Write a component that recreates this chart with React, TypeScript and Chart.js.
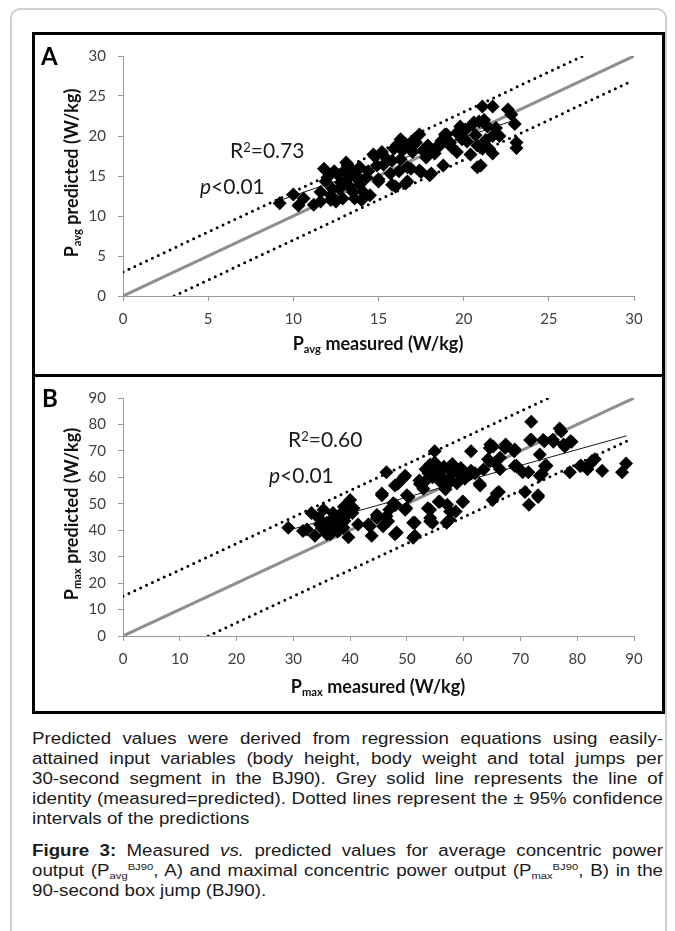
import React, { useEffect, useRef } from "react";
import { Chart, registerables } from "chart.js";

Chart.register(...registerables);

// ---------- Panel A data (W/kg) ----------
const A_MEASURED = [
  9.2, 10.0, 10.3, 10.6, 11.2, 11.6, 11.8, 11.9, 11.6, 12.3, 12.5, 12.2, 12.7, 13.1, 13.2, 13.5, 12.9, 13.9, 14.1, 13.0,
  13.2, 13.7, 13.3, 14.1, 13.6, 13.9, 14.5, 14.0, 14.7, 14.8, 14.9, 15.0, 15.0, 15.2, 15.5, 15.7, 15.8, 15.9, 16.0, 15.8,
  16.3, 16.3, 16.1, 16.6, 16.7, 16.7, 16.6, 16.85, 16.9, 17.4, 17.4, 17.5, 17.8, 17.9, 18.0, 18.0, 18.1, 18.6, 18.8, 18.9,
  19.0, 19.2, 19.6, 19.6, 20.1, 20.4, 20.5, 20.6, 20.8, 20.8, 20.9, 21.0, 21.1, 21.1, 21.4, 21.5, 21.7, 21.7, 21.7, 22.1,
  22.6, 22.8, 23.0, 23.1, 23.1, 12.0, 12.6, 13.4, 14.3, 17.0, 17.2, 17.6, 18.3, 18.4, 19.3, 19.9, 20.2, 21.3, 21.9, 16.2,
  15.3, 12.2, 19.8, 14.4, 12.8, 13.8, 12.4, 13.0, 16.4, 17.1, 18.7, 20.0, 20.7, 21.2,
];
const A_PREDICTED = [
  11.6, 12.7, 11.3, 12.2, 11.4, 11.8, 15.9, 14.3, 13.0, 13.4, 11.8, 12.6, 13.4, 16.7, 14.7, 13.0, 12.2, 13.9, 12.2, 15.7,
  16.3, 15.1, 13.7, 13.0, 12.2, 16.1, 12.6, 12.0, 17.7, 17.4, 16.3, 14.3, 14.6, 18.0, 17.1, 15.3, 16.9, 18.4, 13.7, 13.9,
  19.6, 17.1, 18.9, 19.0, 16.1, 14.3, 14.1, 18.8, 15.9, 20.2, 15.7, 15.5, 17.3, 18.8, 18.4, 15.1, 15.3, 18.8, 16.3, 20.2,
  20.2, 19.2, 20.4, 18.0, 20.8, 17.7, 21.4, 21.7, 18.8, 16.1, 21.8, 16.3, 23.7, 18.4, 21.2, 18.4, 23.7, 20.0, 17.8, 20.0,
  23.3, 22.7, 21.5, 19.2, 18.5, 14.8, 15.2, 15.5, 14.8, 18.0, 19.2, 18.2, 17.8, 18.6, 18.6, 19.6, 19.3, 19.5, 21.0, 15.6,
  16.4, 12.0, 21.2, 15.6, 14.2, 14.5, 15.6, 14.0, 18.2, 19.6, 19.4, 20.6, 20.1, 22.0,
];
const A_IDENTITY_X = [0, 30];
const A_IDENTITY_Y = [0, 30];
const A_UPPER_X = [0, 27];
const A_UPPER_Y = [3, 30];
const A_LOWER_X = [3, 29.8];
const A_LOWER_Y = [0, 26.8];
const A_FIT_X = [9, 23];
const A_FIT_Y = [11.8, 22.0];

// ---------- Panel B data (W/kg) ----------
const B_MEASURED = [
  29.1, 31.7, 32.4, 33.2, 33.8, 34.7, 35.3, 35.9, 35.9, 36.5, 36.6, 37.0, 38.2, 38.9, 38.8, 39.4, 39.7, 40.0, 40.6, 40.4,
  41.4, 43.2, 43.5, 43.8, 44.7, 44.7, 45.0, 45.6, 45.6, 45.8, 46.4, 46.4, 46.7, 46.9, 47.6, 47.9, 47.9, 47.9, 48.2, 48.0,
  48.4, 49.5, 49.7, 49.7, 49.9, 50.0, 50.3, 51.1, 51.1, 51.4, 51.4, 52.2, 52.3, 52.9, 53.3, 53.7, 54.1, 54.1, 54.1, 54.1,
  54.5, 54.9, 54.9, 55.2, 55.6, 55.8, 57.0, 57.0, 57.1, 57.5, 57.6, 57.6, 58.6, 59.4, 59.8, 59.9, 61.1, 61.3, 61.3, 62.8,
  62.9, 64.3, 64.6, 64.6, 64.7, 65.1, 65.2, 65.8, 66.2, 66.4, 66.4, 67.3, 67.4, 68.9, 69.0, 69.0, 69.3, 70.4, 70.8, 71.4,
  71.5, 71.7, 71.9, 71.9, 73.1, 73.1, 73.4, 73.4, 73.8, 74.0, 74.2, 74.3, 74.6, 75.7, 75.8, 76.9, 77.2, 77.6, 77.8, 78.8,
  79.0, 78.7, 80.5, 80.7, 81.8, 82.2, 82.6, 83.1, 84.4, 87.9, 88.6, 53.8, 55.0, 56.0, 56.5, 57.5, 58.2, 58.8, 59.5, 60.2,
  60.8, 55.8, 54.5, 56.8, 58.0, 53.0, 34.5, 36.5, 37.5, 38.0, 35.0, 37.8, 39.0, 62.0, 63.5, 65.5,
];
const B_PREDICTED = [
  40.9, 39.7, 40.3, 46.5, 37.9, 42.2, 47.7, 42.8, 38.5, 38.5, 39.7, 46.5, 45.9, 48.9, 40.9, 45.8, 37.3, 51.4, 48.3, 46.5,
  42.2, 42.2, 41.5, 37.9, 44.6, 45.8, 45.2, 53.9, 53.2, 41.5, 45.3, 61.9, 43.4, 47.7, 50.2, 56.9, 49.5, 38.5, 39.1, 49.6,
  57.6, 60.0, 60.6, 47.7, 48.3, 53.2, 52.6, 42.8, 37.2, 37.9, 42.8, 58.8, 57.5, 55.7, 63.1, 48.3, 64.9, 47.7, 44.6, 43.4,
  42.8, 69.9, 65.6, 61.2, 50.8, 50.8, 56.9, 42.8, 49.6, 44.0, 62.4, 47.1, 47.1, 61.2, 50.8, 50.8, 61.2, 69.9, 62.5, 57.6,
  56.9, 66.8, 71.1, 66.1, 72.4, 51.4, 71.7, 53.9, 54.5, 67.4, 63.1, 71.1, 72.4, 69.9, 70.5, 64.3, 64.4, 61.9, 54.5, 61.9,
  49.6, 74.1, 81.0, 74.2, 52.6, 53.2, 68.6, 60.6, 61.3, 74.1, 73.6, 64.3, 64.4, 74.2, 73.5, 78.5, 77.3, 72.4, 71.7, 73.6,
  73.5, 61.9, 64.3, 64.4, 63.1, 64.9, 66.2, 66.8, 62.5, 61.9, 65.2, 61.5, 63.0, 60.5, 64.0, 59.0, 61.8, 57.8, 63.5, 59.5,
  61.0, 58.5, 60.0, 55.5, 65.0, 58.0, 44.5, 43.5, 41.5, 43.8, 40.8, 39.5, 43.5, 61.5, 63.0, 65.5,
];
const B_IDENTITY_X = [0, 90];
const B_IDENTITY_Y = [0, 90];
const B_UPPER_X = [0, 75];
const B_UPPER_Y = [15, 90];
const B_LOWER_X = [15, 89.5];
const B_LOWER_Y = [0, 74.5];
const B_FIT_X = [29, 88.7];
const B_FIT_Y = [39.9, 75.7];

const toXY = (xs: number[], ys: number[]) => xs.map((x, i) => ({ x, y: ys[i] }));

const AXIS_GREY = "#9a9a9a";
const TICK_COLOR = "#3f3f3f";

type PanelCfg = {
  left: number;
  top: number;
  width: number;
  height: number;
  padTop: number;
  padRight: number;
  yWidth: number;
  xHeight: number;
  max: number;
  step: number;
  mx: number[];
  py: number[];
  idX: number[];
  idY: number[];
  upX: number[];
  upY: number[];
  loX: number[];
  loY: number[];
  fitX: number[];
  fitY: number[];
};

function ScatterPanel({ cfg }: { cfg: PanelCfg }) {
  const ref = useRef<HTMLCanvasElement | null>(null);
  useEffect(() => {
    if (!ref.current) return;
    const dotted = {
      borderColor: "#000",
      borderWidth: 3,
      borderDash: [0, 6.5],
      borderCapStyle: "round" as const,
      showLine: true,
      pointRadius: 0,
      order: 2,
    };
    const chart = new Chart(ref.current, {
      type: "scatter",
      data: {
        datasets: [
          {
            data: toXY(cfg.mx, cfg.py),
            pointStyle: "rectRot",
            pointRadius: 7,
            backgroundColor: "#000",
            borderColor: "#000",
            borderWidth: 0,
            order: 0,
          },
          {
            data: toXY(cfg.idX, cfg.idY),
            showLine: true,
            borderColor: "#8f8f8f",
            borderWidth: 3,
            pointRadius: 0,
            order: 3,
          },
          { data: toXY(cfg.upX, cfg.upY), ...dotted },
          { data: toXY(cfg.loX, cfg.loY), ...dotted },
          {
            data: toXY(cfg.fitX, cfg.fitY),
            showLine: true,
            borderColor: "#1a1a1a",
            borderWidth: 1,
            pointRadius: 0,
            order: 1,
          },
        ],
      },
      options: {
        responsive: false,
        maintainAspectRatio: false,
        devicePixelRatio: 1,
        animation: false,
        layout: { padding: { top: cfg.padTop, right: cfg.padRight, left: 0, bottom: 0 } },
        plugins: { legend: { display: false }, tooltip: { enabled: false } },
        scales: {
          x: {
            type: "linear",
            min: 0,
            max: cfg.max,
            ticks: {
              stepSize: cfg.step,
              color: TICK_COLOR,
              font: { family: "Lato", size: 15 },
              padding: 9,
              maxRotation: 0,
            },
            grid: { drawOnChartArea: false, drawTicks: true, tickLength: 5, color: AXIS_GREY },
            border: { display: true, color: AXIS_GREY, width: 1 },
            afterFit: (s: any) => {
              s.height = cfg.xHeight;
            },
          },
          y: {
            type: "linear",
            min: 0,
            max: cfg.max,
            ticks: {
              stepSize: cfg.step,
              color: TICK_COLOR,
              font: { family: "Lato", size: 15 },
              padding: 12,
            },
            grid: { drawOnChartArea: false, drawTicks: true, tickLength: 5, color: AXIS_GREY },
            border: { display: true, color: AXIS_GREY, width: 1 },
            afterFit: (s: any) => {
              s.width = cfg.yWidth;
            },
          },
        },
      },
    } as any);
    return () => chart.destroy();
  }, []);
  return (
    <canvas
      ref={ref}
      width={cfg.width}
      height={cfg.height}
      style={{ position: "absolute", left: cfg.left, top: cfg.top, width: cfg.width, height: cfg.height }}
    />
  );
}

const abs = (s: React.CSSProperties): React.CSSProperties => ({ position: "absolute", margin: 0, ...s });

const subStyle: React.CSSProperties = { fontSize: "0.62em", position: "relative", top: "0.28em", lineHeight: 0 };
const supStyle: React.CSSProperties = { fontSize: "0.62em", position: "relative", top: "-0.5em", lineHeight: 0 };

function AxisTitles({ sub, cx, xTitleY, yTitleX, cy }: { sub: string; cx: number; xTitleY: number; yTitleX: number; cy: number }) {
  const base: React.CSSProperties = {
    fontFamily: "Lato",
    fontWeight: 700,
    fontSize: 18,
    color: "#111",
    whiteSpace: "nowrap",
    lineHeight: "20px",
  };
  return (
    <>
      <div style={abs({ ...base, left: cx, top: xTitleY, transform: "translate(-50%, -50%)" })}>
        P<span style={subStyle}>{sub}</span> measured (W/kg)
      </div>
      <div style={abs({ ...base, left: yTitleX, top: cy, transform: "translate(-50%, -50%) rotate(-90deg)" })}>
        P<span style={subStyle}>{sub}</span> predicted (W/kg)
      </div>
    </>
  );
}

function Stats({ r2, rLeft, rTop, pLeft, pTop }: { r2: string; rLeft: number; rTop: number; pLeft: number; pTop: number }) {
  const base: React.CSSProperties = { fontFamily: "Lato", fontSize: 21, lineHeight: "21px", color: "#1a1a1a", whiteSpace: "nowrap" };
  return (
    <>
      <div style={abs({ ...base, left: rLeft, top: rTop })}>
        R<span style={supStyle}>2</span>={r2}
      </div>
      <div style={abs({ ...base, left: pLeft, top: pTop })}>
        <i>p</i>&lt;0.01
      </div>
    </>
  );
}

const captionLine = (last: boolean): React.CSSProperties => ({
  textAlign: "justify",
  textAlignLast: last ? "left" : "justify",
  whiteSpace: "nowrap",
  height: 20,
});

const CAPTION_STRETCH = 1.17;

export default function App() {
  const panelA: PanelCfg = {
    left: 35,
    top: 35,
    width: 627,
    height: 339,
    padTop: 17,
    padRight: 28,
    yWidth: 88,
    xHeight: 78,
    max: 30,
    step: 5,
    mx: A_MEASURED,
    py: A_PREDICTED,
    idX: A_IDENTITY_X,
    idY: A_IDENTITY_Y,
    upX: A_UPPER_X,
    upY: A_UPPER_Y,
    loX: A_LOWER_X,
    loY: A_LOWER_Y,
    fitX: A_FIT_X,
    fitY: A_FIT_Y,
  };
  const panelB: PanelCfg = {
    left: 35,
    top: 377,
    width: 627,
    height: 334,
    padTop: 15,
    padRight: 28,
    yWidth: 88,
    xHeight: 75,
    max: 90,
    step: 10,
    mx: B_MEASURED,
    py: B_PREDICTED,
    idX: B_IDENTITY_X,
    idY: B_IDENTITY_Y,
    upX: B_UPPER_X,
    upY: B_UPPER_Y,
    loX: B_LOWER_X,
    loY: B_LOWER_Y,
    fitX: B_FIT_X,
    fitY: B_FIT_Y,
  };

  const letter: React.CSSProperties = { fontFamily: "Lato", fontWeight: 700, fontSize: 24, lineHeight: "24px", color: "#000" };
  const subC: React.CSSProperties = { fontSize: "0.6em", position: "relative", top: "0.35em" };
  const supC: React.CSSProperties = { fontSize: "0.6em", position: "relative", top: "-0.6em" };

  return (
    <div style={{ position: "absolute", left: 0, top: 0, width: 675, height: 931, overflow: "hidden", background: "#fff" }}>
      {/* outer frame */}
      <div
        style={abs({
          left: 10,
          top: 8,
          width: 657,
          height: 960,
          border: "2px solid #cfcfcf",
          borderRadius: 10,
          boxSizing: "border-box",
        })}
      />
      {/* panel frames */}
      <div style={abs({ left: 32, top: 32, width: 633, height: 345, border: "3px solid #000", boxSizing: "border-box" })} />
      <div style={abs({ left: 32, top: 374, width: 633, height: 340, border: "3px solid #000", boxSizing: "border-box" })} />

      <ScatterPanel cfg={panelA} />
      <ScatterPanel cfg={panelB} />

      <div style={abs({ ...letter, left: 41, top: 44 })}>A</div>
      <div style={abs({ ...letter, left: 42, top: 386 })}>B</div>

      <AxisTitles sub="avg" cx={378} xTitleY={343} yTitleX={71} cy={173} />
      <AxisTitles sub="max" cx={378} xTitleY={686} yTitleX={71} cy={514} />

      <Stats r2="0.73" rLeft={230} rTop={139} pLeft={200} pTop={175} />
      <Stats r2="0.60" rLeft={288} rTop={428} pLeft={269} pTop={464} />

      {/* caption */}
      <div
        style={abs({
          left: 32,
          top: 729,
          width: 631 / CAPTION_STRETCH,
          transform: `scaleX(${CAPTION_STRETCH})`,
          transformOrigin: "0 0",
          fontFamily: "'Liberation Sans', Arial, sans-serif",
          fontSize: 16,
          lineHeight: "20px",
          color: "#1a1a1a",
        })}
      >
        <div style={captionLine(false)}>Predicted values were derived from regression equations using easily-</div>
        <div style={captionLine(false)}>attained input variables (body height, body weight and total jumps per</div>
        <div style={captionLine(false)}>30-second segment in the BJ90). Grey solid line represents the line of</div>
        <div style={captionLine(false)}>identity (measured=predicted). Dotted lines represent the ± 95% confidence</div>
        <div style={captionLine(true)}>intervals of the predictions</div>
        <div style={{ height: 12 }} />
        <div style={captionLine(false)}>
          <b>Figure 3:</b> Measured <i>vs.</i> predicted values for average concentric power
        </div>
        <div style={captionLine(false)}>
          output (P<span style={subC}>avg</span>
          <span style={supC}>BJ90</span>, A) and maximal concentric power output (P<span style={subC}>max</span>
          <span style={supC}>BJ90</span>, B) in the
        </div>
        <div style={captionLine(true)}>90-second box jump (BJ90).</div>
      </div>
    </div>
  );
}
